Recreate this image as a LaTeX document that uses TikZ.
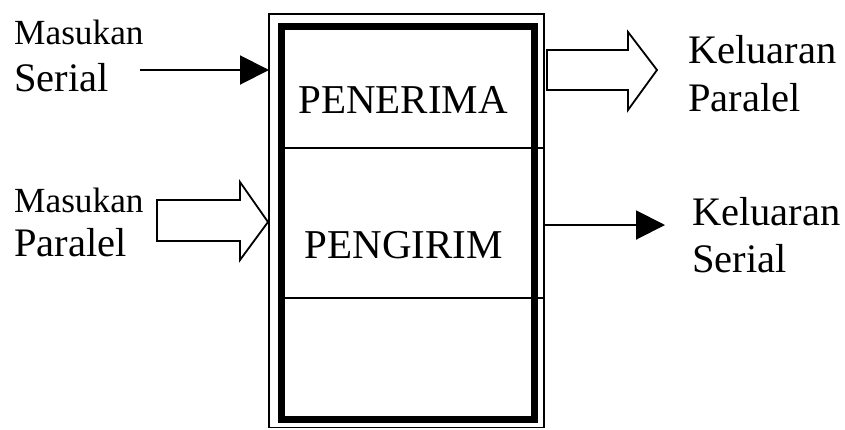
\documentclass[tikz,border=0pt]{standalone}
\usepackage{fontspec}
\setmainfont{Liberation Serif}
\usetikzlibrary{arrows.meta}
\tikzset{
  big/.style={font=\fontsize{40.5}{48}\selectfont, inner sep=0pt, anchor=base west},
  small/.style={font=\fontsize{35.3}{40}\selectfont, inner sep=0pt, anchor=base west},
  bigc/.style={font=\fontsize{41}{48}\selectfont, inner sep=0pt, anchor=base},
  thinbox/.style={draw, line width=1.5pt},
  thickbox/.style={draw, line width=7pt},
  divider/.style={line width=1.8pt},
  sigarrow/.style={line width=2pt, -{Triangle[length=29pt,width=29pt]}},
  blockarrow/.style={draw, line width=1.8pt, fill=white, line join=miter},
}
\begin{document}
\begin{tikzpicture}[x=1pt,y=-1pt]
\useasboundingbox (0,0) rectangle (845,429);
% boxes
\coordinate (oNW) at (269,14);
\coordinate (oSE) at (544,427.5);
\coordinate (iNW) at (281,26);
\coordinate (iSE) at (534,419);
\draw[thinbox] (oNW) rectangle (oSE);
\draw[thickbox] (iNW) rectangle (iSE);
\coordinate (d1l) at (284.5,148);
\coordinate (d1r) at (543.5,148);
\coordinate (d2l) at (284.5,298);
\coordinate (d2r) at (543.5,298);
\draw[divider] (d1l) -- (d1r);
\draw[divider] (d2l) -- (d2r);
\node[bigc] (pen) at (403,113) {PENERIMA};
\node[bigc] (peng) at (404,258) {PENGIRIM};
% left labels
\node[small] (ms1) at (14,44) {Masukan};
\node[big] (ms2) at (14,91) {Serial};
\node[small] (mp1) at (14,212) {Masukan};
\node[big] (mp2) at (14,256) {Paralel};
% right labels
\node[big] (kp1) at (688,63) {Keluaran};
\node[big] (kp2) at (688,111) {Paralel};
\node[big] (ks1) at (692,225) {Keluaran};
\node[big] (ks2) at (692,272) {Serial};
% serial in
\coordinate (msstart) at (140,70);
\coordinate (msend) at (269,70);
\draw[sigarrow] (msstart) -- (msend);
% serial out
\coordinate (ksstart) at (544,225);
\coordinate (ksend) at (665,225);
\draw[sigarrow] (ksstart) -- (ksend);
% parallel in block arrow
\draw[blockarrow] (157,200) -- (240,200) -- (240,182) -- (268,222) -- (240,260) -- (240,241) -- (157,241) -- cycle;
% parallel out block arrow
\draw[blockarrow] (547,50) -- (628,50) -- (628,32) -- (657,70) -- (628,110) -- (628,90) -- (547,90) -- cycle;
\end{tikzpicture}
\end{document}
